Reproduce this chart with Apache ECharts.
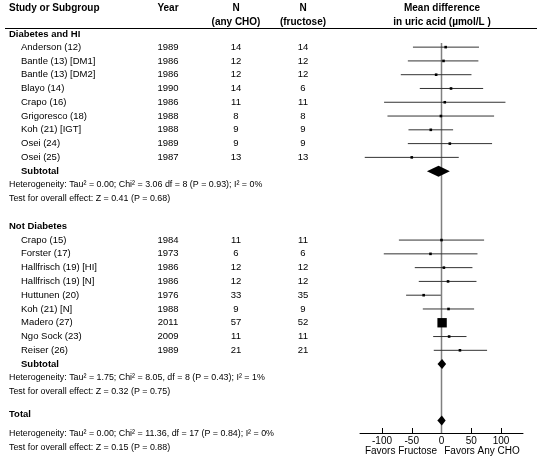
<!DOCTYPE html>
<html><head><meta charset="utf-8">
<script src="https://cdn.jsdelivr.net/npm/echarts@6/dist/echarts.min.js"></script>
<style>html,body{margin:0;padding:0;background:#fff}#c{width:542px;height:462px}</style>
</head><body><div id="c"></div>
<script>
// ---- data ----
const headers = ['Study or Subgroup', 'Year', 'N', '(any CHO)', 'N', '(fructose)', 'Mean difference', 'in uric acid (\u00b5mol/L )'];
const group1 = 'Diabetes and HI';
const studies1 = ['Anderson (12)', 'Bantle (13) [DM1]', 'Bantle (13) [DM2]', 'Blayo (14)', 'Crapo (16)', 'Grigoresco (18)', 'Koh (21) [IGT]', 'Osei (24)', 'Osei (25)'];
const years1 = ['1989', '1986', '1986', '1990', '1986', '1988', '1988', '1989', '1987'];
const nCho1 = [14, 12, 12, 14, 11, 8, 9, 9, 13];
const nFru1 = [14, 12, 12, 6, 11, 8, 9, 9, 13];
const md1 = [7, 3.4, -9, 16, 5.5, -1, -18, 14, -50];
const lo1 = [-48, -56.6, -68.4, -36.5, -96.5, -90.8, -55.5, -56.6, -129];
const hi1 = [63, 62, 50.4, 70, 107.5, 88.4, 19.5, 85, 29];
const weight1 = [1, 1, 1, 1, 1, 1, 1, 1, 1];
const subtotal1 = { md: -5, lo: -24.5, hi: 14 };
const het1 = 'Heterogeneity: Tau\u00b2 = 0.00; Chi\u00b2 = 3.06 df = 8 (P = 0.93); I\u00b2 = 0%';
const test1 = 'Test for overall effect: Z = 0.41 (P = 0.68)';

const group2 = 'Not Diabetes';
const studies2 = ['Crapo (15)', 'Forster (17)', 'Hallfrisch (19) [HI]', 'Hallfrisch (19) [N]', 'Huttunen (20)', 'Koh (21) [N]', 'Madero (27)', 'Ngo Sock (23)', 'Reiser (26)'];
const years2 = ['1984', '1973', '1986', '1986', '1976', '1988', '2011', '2009', '1989'];
const nCho2 = [11, 6, 12, 12, 33, 9, 57, 11, 21];
const nFru2 = [11, 6, 12, 12, 35, 9, 52, 11, 21];
const md2 = [0, -18.5, 4, 11, -30, 11.8, 1, 12.8, 31];
const lo2 = [-71.6, -97, -44.9, -38.2, -59.5, -31.4, -5, -14, -13];
const hi2 = [71.6, 60.5, 52, 58.8, -1, 54.8, 7, 42, 76.6];
const weight2 = [1, 1, 1, 1, 1, 1, 13, 1, 1];
const subtotal2 = { md: 1, lo: -6.7, hi: 7.8 };
const het2 = 'Heterogeneity: Tau\u00b2 = 1.75; Chi\u00b2 = 8.05, df = 8 (P = 0.43); I\u00b2 = 1%';
const test2 = 'Test for overall effect: Z = 0.32 (P = 0.75)';

const totalLabel = 'Total';
const total = { md: 0.5, lo: -7, hi: 7 };
const het3 = 'Heterogeneity: Tau\u00b2 = 0.00; Chi\u00b2 = 11.36, df = 17 (P = 0.84); I\u00b2 = 0%';
const test3 = 'Test for overall effect: Z = 0.15 (P = 0.88)';

const xTicks = [-100, -50, 0, 50, 100];
const favorsLeft = 'Favors Fructose';
const favorsRight = 'Favors Any CHO';

// ---- layout (rows) ----
const FONT = '"Liberation Sans", Arial, sans-serif';
const rowStudies1 = studies1.map((_, i) => i);          // 0..8
const rowSub1 = 9, rowHet1 = 10, rowTest1 = 11, rowGroup1 = -0.9;
const rowGroup2 = 13;
const rowStudies2 = studies2.map((_, i) => 14 + i);     // 14..22
const rowSub2 = 23, rowHet2 = 24, rowTest2 = 25;
const rowTotalLabel = 26.65, rowTotal = 27.1, rowHet3 = 28.05, rowTest3 = 29.05;

const studyData = [];
md1.forEach((m, i) => studyData.push([m, lo1[i], hi1[i], rowStudies1[i], weight1[i]]));
md2.forEach((m, i) => studyData.push([m, lo2[i], hi2[i], rowStudies2[i], weight2[i]]));
const diamondData = [
  [subtotal1.md, subtotal1.lo, subtotal1.hi, rowSub1, 5.5],
  [subtotal2.md, subtotal2.lo, subtotal2.hi, rowSub2, 5],
  [total.md, total.lo, total.hi, rowTotal, 5]
];

const chart = echarts.init(document.getElementById('c'), null, { renderer: 'canvas' });
chart.setOption({
  animation: false,
  backgroundColor: '#fff',
  grid: { left: 360, right: 19, top: 43, bottom: 29, containLabel: false },
  xAxis: {
    type: 'value', min: -137, max: 137, position: 'bottom',
    axisLine: { show: true, onZero: false, lineStyle: { color: '#000', width: 1 } },
    axisTick: { show: true, inside: true, length: 5, lineStyle: { color: '#000' }, customValues: xTicks },
    axisLabel: { show: true, color: '#000', fontSize: 10, fontFamily: FONT, margin: 3, customValues: xTicks },
    splitLine: { show: false }
  },
  yAxis: {
    type: 'value', min: -0.3, max: 28, inverse: true,
    axisLine: { show: false }, axisTick: { show: false }, axisLabel: { show: false }, splitLine: { show: false }
  },
  series: [
    {
      type: 'line', data: [[0, -0.3], [0, 28]], symbol: 'none', silent: true,
      lineStyle: { color: '#808080', width: 1.5 }, z: 1
    },
    {
      type: 'custom', data: studyData, z: 2,
      renderItem: function (params, api) {
        const y = api.coord([0, api.value(3)])[1];
        const pLo = api.coord([api.value(1), 0])[0];
        const pHi = api.coord([api.value(2), 0])[0];
        const pM = api.coord([api.value(0), 0])[0];
        const s = 2.6 * Math.sqrt(api.value(4));
        return {
          type: 'group', children: [
            { type: 'line', shape: { x1: pLo, y1: y, x2: pHi, y2: y }, style: { stroke: '#333', lineWidth: 1 } },
            { type: 'rect', shape: { x: pM - s / 2, y: y - s / 2, width: s, height: s }, style: { fill: '#000' } }
          ]
        };
      }
    },
    {
      type: 'custom', data: diamondData, z: 3,
      renderItem: function (params, api) {
        const y = api.coord([0, api.value(3)])[1];
        const pLo = api.coord([api.value(1), 0])[0];
        const pHi = api.coord([api.value(2), 0])[0];
        const pM = api.coord([api.value(0), 0])[0];
        const h = api.value(4);
        return {
          type: 'polygon',
          shape: { points: [[pLo, y], [pM, y - h], [pHi, y], [pM, y + h]] },
          style: { fill: '#000' }
        };
      }
    }
  ]
});

// ---- text ----
const g = [];
function yOf(row) { return chart.convertToPixel({ gridIndex: 0 }, [0, row])[1]; }
function txt(s, x, y, opts) {
  opts = opts || {};
  g.push({
    type: 'text', x: x, y: y, silent: true,
    style: {
      text: s, fill: '#000', font: (opts.bold ? 'bold ' : '') + (opts.size || 9.5) + 'px ' + FONT,
      align: opts.align || 'left', verticalAlign: 'middle'
    }
  });
}
const xName = 9, xIndent = 21, xYear = 168, xCho = 236, xFru = 303, xMD = 442;
const SMALL = 8.9;
// headers
txt(headers[0], xName, 8.5, { bold: true, size: 10 });
txt(headers[1], xYear, 8.5, { bold: true, size: 10, align: 'center' });
txt(headers[2], xCho, 8.5, { bold: true, size: 10, align: 'center' });
txt(headers[3], xCho, 22, { bold: true, size: 10, align: 'center' });
txt(headers[4], xFru, 8.5, { bold: true, size: 10, align: 'center' });
txt(headers[5], xFru, 22, { bold: true, size: 10, align: 'center' });
txt(headers[6], xMD, 8.5, { bold: true, size: 10, align: 'center' });
txt(headers[7], xMD, 22, { bold: true, size: 10, align: 'center' });
g.push({ type: 'line', silent: true, shape: { x1: 5, y1: 28.5, x2: 537, y2: 28.5 }, style: { stroke: '#000', lineWidth: 1 } });

txt(group1, xName, yOf(rowGroup1), { bold: true });
studies1.forEach((s, i) => {
  const y = yOf(rowStudies1[i]);
  txt(s, xIndent, y);
  txt(years1[i], xYear, y, { align: 'center' });
  txt(String(nCho1[i]), xCho, y, { align: 'center' });
  txt(String(nFru1[i]), xFru, y, { align: 'center' });
});
txt('Subtotal', xIndent, yOf(rowSub1), { bold: true });
txt(het1, xName, yOf(rowHet1), { size: SMALL });
txt(test1, xName, yOf(rowTest1), { size: SMALL });

txt(group2, xName, yOf(rowGroup2), { bold: true });
studies2.forEach((s, i) => {
  const y = yOf(rowStudies2[i]);
  txt(s, xIndent, y);
  txt(years2[i], xYear, y, { align: 'center' });
  txt(String(nCho2[i]), xCho, y, { align: 'center' });
  txt(String(nFru2[i]), xFru, y, { align: 'center' });
});
txt('Subtotal', xIndent, yOf(rowSub2), { bold: true });
txt(het2, xName, yOf(rowHet2), { size: SMALL });
txt(test2, xName, yOf(rowTest2), { size: SMALL });

txt(totalLabel, xName, yOf(rowTotalLabel), { bold: true });
txt(het3, xName, yOf(rowHet3), { size: SMALL });
txt(test3, xName, yOf(rowTest3), { size: SMALL });

txt(favorsLeft, 401, 451, { size: 10, align: 'center' });
txt(favorsRight, 482, 451, { size: 10, align: 'center' });

chart.setOption({ graphic: { elements: g } });
</script>
</body></html>
